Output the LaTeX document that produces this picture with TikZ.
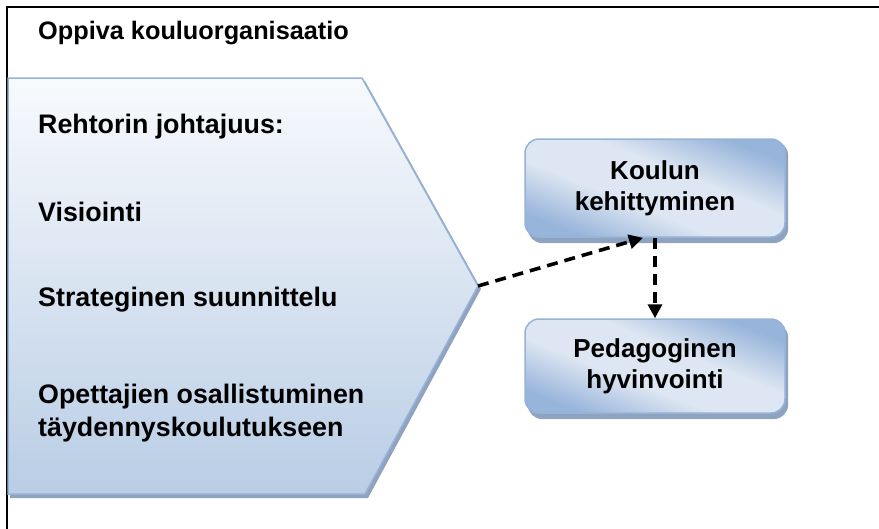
\documentclass[tikz,border=0pt]{standalone}
\usepackage{fontspec}
\setmainfont{Liberation Sans}
\usetikzlibrary{arrows.meta}
\definecolor{edgeblue}{HTML}{95B3D7}
\definecolor{shadowblue}{HTML}{8FA3BF}
\definecolor{paleblue}{HTML}{F8FAFD}
\definecolor{softblue}{HTML}{B9CDE5}
\definecolor{boxdark}{HTML}{97B4DA}
\definecolor{boxlight}{HTML}{DDE6F2}
% glossy fill for the goal boxes: darker corners, broad light band
\pgfdeclareverticalshading{glossy}{100bp}{
  color(0bp)=(boxdark); color(25bp)=(boxdark); color(42bp)=(boxlight);
  color(58bp)=(boxlight); color(75bp)=(boxdark); color(100bp)=(boxdark)}
\tikzset{
  frameline/.style={line width=2pt, draw=black},
  listtext/.style={anchor=west, inner sep=0pt, font=\bfseries\fontsize{26.8}{32.5}\selectfont, align=left},
  titletext/.style={anchor=west, inner sep=0pt, font=\bfseries\fontsize{25.3}{30}\selectfont},
  goalbox/.style={draw=edgeblue, line width=1.5pt, rounded corners=14pt,
    minimum width=260pt, minimum height=98pt, align=center,
    font=\bfseries\fontsize{26}{31}\selectfont,
    shading=glossy, shading angle=-22},
  boxshadow/.style={fill=shadowblue, rounded corners=14pt},
  dasharrow/.style={line width=3.6pt, dash pattern=on 11pt off 7pt,
    -{Triangle[length=14pt,width=14pt]}}
}
\begin{document}
\begin{tikzpicture}[x=1pt,y=-1pt]
\useasboundingbox (0,0) rectangle (879,528);
\fill[white] (0,0) rectangle (879,528);

% outer frame (runs off the right and bottom edges)
\draw[frameline] (7,530) -- (7,7) -- (881,7);

% pentagon arrow: shadow, then shaded body
\fill[shadowblue] (10,81) -- (365,81) -- (481,289) -- (368,498) -- (10,498) -- cycle;
\shade[top color=paleblue, bottom color=softblue, draw=edgeblue, line width=1.5pt]
  (8,78) -- (362,78) -- (478,286) -- (365,494) -- (8,494) -- cycle;
\coordinate (tip) at (478,286);

% texts
\node[titletext] (title) at (38,33) {Oppiva kouluorganisaatio};
\node[listtext] (lead) at (38,127) {Rehtorin johtajuus:};
\node[listtext] (vision) at (38,212) {Visiointi};
\node[listtext] (strategy) at (38,300) {Strateginen suunnittelu};
\node[listtext] (training) at (38,413) {Opettajien osallistuminen\\täydennyskoulutukseen};

% goal boxes
\fill[boxshadow] (528,141) rectangle (788,243);
\node[goalbox] (dev) at (655,188) {Koulun\\kehittyminen};
\fill[boxshadow] (528,323) rectangle (788,419);
\node[goalbox, minimum height=94pt] (peda) at (655,366) {Pedagoginen\\hyvinvointi};

% connectors
\draw[dasharrow] (tip) -- ([xshift=-12pt]dev.south);
\draw[dasharrow] (dev.south) -- (peda.north);
\end{tikzpicture}
\end{document}
